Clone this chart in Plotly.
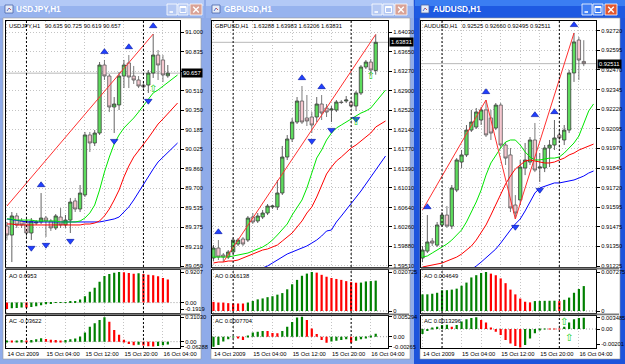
import plotly.graph_objects as go

W, H = 625, 364

# ------------------------------------------------------------------ data
bars = list(range(34))          # hourly bars 14 Oct 20:00 ... 16 Oct 05:00
line_bars = list(range(36))     # alligator lines are shifted forward
grid_bars = [0, 4, 8, 12, 16, 20, 24, 28, 32]
grid_text = ["14 Oct 2009", "", "15 Oct 04:00", "", "15 Oct 12:00", "",
             "15 Oct 20:00", "", "16 Oct 04:00"]
day_breaks = [4, 28]

# USDJPY,H1
uj_open = [89.383, 89.308, 89.467, 89.425, 89.425, 89.325, 89.408, 89.417, 89.450, 89.425, 89.367, 89.458,
           89.392, 89.433, 89.592, 89.525, 89.642, 90.142, 90.075, 90.158, 90.725, 90.633, 90.375, 90.392,
           90.633, 90.742, 90.633, 90.600, 90.558, 90.558, 90.658, 90.808, 90.767, 90.635]
uj_high = [89.417, 89.500, 89.492, 89.450, 89.442, 89.450, 89.433, 89.658, 89.467, 89.442, 89.483, 89.533,
           89.475, 89.617, 89.617, 89.725, 90.167, 90.167, 90.183, 90.750, 90.767, 90.650, 90.458, 90.667,
           90.767, 90.808, 90.717, 90.633, 90.583, 90.683, 90.983, 90.850, 90.808, 90.725]
uj_low = [89.267, 89.083, 89.367, 89.367, 89.292, 89.267, 89.392, 89.400, 89.292, 89.342, 89.350, 89.367,
          89.367, 89.325, 89.500, 89.500, 89.625, 90.000, 90.050, 90.142, 90.600, 90.333, 90.158, 90.350,
          90.533, 90.533, 90.567, 90.533, 90.517, 90.492, 90.617, 90.600, 90.583, 90.619]
uj_close = [89.308, 89.467, 89.392, 89.392, 89.325, 89.425, 89.417, 89.450, 89.425, 89.367, 89.467, 89.392,
            89.433, 89.583, 89.525, 89.658, 90.142, 90.075, 90.158, 90.725, 90.633, 90.375, 90.400, 90.633,
            90.725, 90.625, 90.600, 90.550, 90.542, 90.658, 90.808, 90.725, 90.642, 90.657]
uj_lips = [89.442, 89.442, 89.433, 89.433, 89.433, 89.433, 89.425, 89.425, 89.425, 89.425, 89.425, 89.417,
           89.417, 89.417, 89.417, 89.425, 89.450, 89.492, 89.558, 89.683, 89.833, 89.958, 90.067, 90.142,
           90.200, 90.242, 90.283, 90.333, 90.383, 90.442, 90.492, 90.517, 90.550, 90.583, 90.617, 90.642]
uj_teeth = [89.400, 89.400, 89.392, 89.392, 89.392, 89.392, 89.392, 89.392, 89.392, 89.392, 89.392, 89.392,
            89.392, 89.392, 89.392, 89.392, 89.400, 89.400, 89.408, 89.425, 89.467, 89.525, 89.600, 89.683,
            89.792, 89.883, 89.958, 90.008, 90.058, 90.117, 90.175, 90.233, 90.275, 90.317, 90.367, 90.408]
uj_jaw = [89.442, 89.438, 89.433, 89.425, 89.417, 89.417, 89.417, 89.417, 89.417, 89.417, 89.417, 89.417,
          89.417, 89.417, 89.417, 89.417, 89.417, 89.417, 89.417, 89.417, 89.425, 89.433, 89.442, 89.458,
          89.500, 89.542, 89.600, 89.667, 89.733, 89.800, 89.858, 89.917, 89.958, 90.000, 90.042, 90.075]
uj_zz_x = [0, 30]
uj_zz_y = [89.550, 90.983]
uj_fr_up = [7, 20, 25, 30]
uj_fr_dn = [1, 5, 8, 13, 22, 29]
uj_sig_x = [30]
uj_sig_y = [90.525]
uj_ao = [-0.1919, -0.17, -0.16, -0.15, -0.155, -0.13, -0.11, -0.08, -0.05, -0.03, -0.01, 0.005, 0.01, 0.02,
         0.04, 0.09, 0.19, 0.33, 0.45, 0.63, 0.80, 0.86, 0.90, 0.9207, 0.915, 0.89, 0.87, 0.88, 0.86, 0.84,
         0.82, 0.79, 0.74, 0.6953]
uj_ac = [0.012, 0.005, 0.015, 0.02, 0.012, 0.02, 0.03, 0.045, 0.035, 0.025, 0.02, 0.015, 0.02, 0.03, 0.04,
         0.067, 0.117, 0.19, 0.235, 0.276, 0.3103, 0.255, 0.15, 0.088, 0.025, -0.03, -0.045, -0.04, -0.05,
         -0.058, -0.06288, -0.055, -0.045, -0.03622]
uj_ticks = [89.05, 89.2125, 89.375, 89.5375, 89.70, 89.8625, 90.025, 90.1875, 90.35, 90.5125, 90.675,
            90.8375, 91.0]
# the 90.675 label is hidden under the current-price box in the reference
uj_tick_text = ["89.050", "89.210", "89.375", "89.535", "89.700", "89.860", "90.025", "90.185", "90.350",
                "90.510", "", "90.835", "91.000"]

# GBPUSD,H1
gu_open = [1.59664, 1.59857, 1.59722, 1.59683, 1.59780, 1.59934, 1.60031, 1.60011, 1.60456, 1.60379, 1.60456,
           1.60533, 1.60649, 1.60649, 1.60920, 1.61615, 1.61963, 1.62291, 1.62697, 1.62369, 1.62388, 1.62388,
           1.62639, 1.62562, 1.62523, 1.62523, 1.62678, 1.62697, 1.62678, 1.62600, 1.62852, 1.63354, 1.63450,
           1.63288]
gu_high = [1.59915, 1.60011, 1.59760, 1.59818, 1.60050, 1.60050, 1.60069, 1.60475, 1.60533, 1.60533, 1.60591,
           1.60707, 1.60688, 1.61171, 1.61828, 1.62040, 1.62369, 1.62774, 1.62987, 1.62813, 1.62484, 1.62774,
           1.62813, 1.62639, 1.62600, 1.62716, 1.62716, 1.62794, 1.62716, 1.62890, 1.63392, 1.63489, 1.63508,
           1.63983]
gu_low = [1.59606, 1.59625, 1.59586, 1.59644, 1.59741, 1.59896, 1.59896, 1.59973, 1.60321, 1.60340, 1.60417,
          1.60494, 1.60610, 1.60591, 1.60881, 1.61557, 1.61905, 1.62253, 1.62253, 1.62214, 1.62079, 1.62291,
          1.62330, 1.62388, 1.62291, 1.62484, 1.62639, 1.62658, 1.62562, 1.62504, 1.62813, 1.63315, 1.63199,
          1.63206]
gu_close = [1.59857, 1.59683, 1.59683, 1.59780, 1.60011, 1.60011, 1.59934, 1.60436, 1.60359, 1.60475, 1.60533,
            1.60668, 1.60668, 1.60920, 1.61615, 1.61963, 1.62291, 1.62697, 1.62291, 1.62311, 1.62233, 1.62639,
            1.62465, 1.62484, 1.62542, 1.62678, 1.62668, 1.62716, 1.62600, 1.62852, 1.63354, 1.63450, 1.63296,
            1.63831]
gu_lips = [1.59683, 1.59683, 1.59683, 1.59683, 1.59702, 1.59722, 1.59741, 1.59760, 1.59799, 1.59838, 1.59876,
           1.59934, 1.60011, 1.60108, 1.60224, 1.60321, 1.60494, 1.60649, 1.60784, 1.61016, 1.61306, 1.61596,
           1.61750, 1.61943, 1.62079, 1.62175, 1.62233, 1.62291, 1.62349, 1.62407, 1.62465, 1.62504, 1.62562,
           1.62678, 1.62794, 1.62909]
gu_teeth = [1.59567, 1.59586, 1.59586, 1.59606, 1.59606, 1.59625, 1.59664, 1.59702, 1.59741, 1.59780, 1.59818,
            1.59838, 1.59876, 1.59915, 1.59992, 1.60069, 1.60147, 1.60263, 1.60379, 1.60533, 1.60649, 1.60842,
            1.61055, 1.61287, 1.61422, 1.61538, 1.61615, 1.61712, 1.61789, 1.61847, 1.61924, 1.62001, 1.62079,
            1.62195, 1.62253, 1.62311]
gu_jaw = [1.59393, 1.59374, 1.59355, 1.59335, 1.59316, 1.59316, 1.59335, 1.59355, 1.59393, 1.59432, 1.59470,
          1.59510, 1.59567, 1.59625, 1.59683, 1.59741, 1.59780, 1.59818, 1.59857, 1.59896, 1.59953, 1.60011,
          1.60089, 1.60185, 1.60205, 1.60359, 1.60475, 1.60591, 1.60707, 1.60842, 1.60958, 1.61093, 1.61229,
          1.61364, 1.61499, 1.61634]
gu_zz_x = [2, 33]
gu_zz_y = [1.59586, 1.63983]
gu_fr_up = [1, 18, 22]
gu_fr_dn = [2, 20, 24, 29]
gu_sig_x = [29, 32]
gu_sig_y = [1.62291, 1.63180]
gu_ao = [0.00485, 0.00451, 0.00449, 0.00418, 0.00401, 0.00400, 0.00399, 0.00451, 0.00535, 0.00618, 0.00668,
         0.00735, 0.00785, 0.00869, 0.00952, 0.01153, 0.01420, 0.01654, 0.01872, 0.01988, 0.020725, 0.02039,
         0.01922, 0.01821, 0.01755, 0.01704, 0.01654, 0.01587, 0.01537, 0.01504, 0.01510, 0.01571, 0.01590,
         0.016138]
gu_ac = [-0.00265, -0.0022, -0.0013, -0.0007, -0.0002, -0.0004, -0.0009, 0.0003, 0.0011, 0.0013, 0.0015,
         0.00148, 0.0010, 0.0009, 0.0015, 0.0026, 0.0039, 0.0051, 0.005294, 0.0044, 0.0022, 0.0007, -0.0009,
         -0.0016, -0.0013, -0.0011, -0.0009, -0.0007, -0.0016, -0.0011, -0.0007, -0.0003, 0.0002, 0.0007704]
gu_ticks = [1.59510, 1.59887, 1.60263, 1.60640, 1.61017, 1.61393, 1.61770, 1.62147, 1.62523, 1.62900,
            1.63277, 1.63653, 1.64030]
gu_tick_text = ["1.59510", "1.59880", "1.60260", "1.60640", "1.61010", "1.61390", "1.61770", "1.62140",
                "1.62520", "1.62900", "1.63270", "1.63650", "1.64030"]

# AUDUSD,H1
au_open = [0.91276, 0.91320, 0.91384, 0.91358, 0.91486, 0.91549, 0.91479, 0.91708, 0.91886, 0.91931, 0.92089,
           0.92108, 0.92153, 0.92217, 0.92166, 0.92102, 0.92248, 0.91994, 0.91931, 0.91613, 0.91645, 0.91848,
           0.91886, 0.92026, 0.91848, 0.91848, 0.91975, 0.91994, 0.92058, 0.92026, 0.92089, 0.92452, 0.92661,
           0.92525]
au_high = [0.91352, 0.91549, 0.91403, 0.91505, 0.91568, 0.91606, 0.91740, 0.91911, 0.91962, 0.92121, 0.92217,
           0.92229, 0.92236, 0.92280, 0.92217, 0.92261, 0.92261, 0.92013, 0.91975, 0.91676, 0.91899, 0.92007,
           0.92045, 0.92134, 0.91943, 0.91994, 0.92026, 0.92153, 0.92089, 0.92121, 0.92471, 0.92706, 0.92680,
           0.92660]
au_low = [0.91250, 0.91308, 0.91352, 0.91346, 0.91473, 0.91467, 0.91460, 0.91695, 0.91848, 0.91918, 0.92077,
          0.92096, 0.92121, 0.92045, 0.92026, 0.92089, 0.91975, 0.91867, 0.91568, 0.91524, 0.91613, 0.91803,
          0.91867, 0.91822, 0.91759, 0.91822, 0.91854, 0.91962, 0.92013, 0.91994, 0.92070, 0.92395, 0.92407,
          0.92495]
au_close = [0.91327, 0.91378, 0.91371, 0.91486, 0.91549, 0.91479, 0.91721, 0.91899, 0.91931, 0.92089, 0.92140,
            0.92204, 0.92217, 0.92058, 0.92070, 0.92248, 0.91994, 0.91911, 0.91594, 0.91562, 0.91854, 0.91899,
            0.92026, 0.91835, 0.91854, 0.91975, 0.91994, 0.92039, 0.92039, 0.92089, 0.92452, 0.92649, 0.92534,
            0.92511]
au_lips = [0.91282, 0.91289, 0.91308, 0.91327, 0.91346, 0.91365, 0.91390, 0.91422, 0.91454, 0.91505, 0.91568,
           0.91632, 0.91708, 0.91803, 0.91880, 0.91931, 0.91975, 0.92013, 0.92026, 0.92026, 0.91994, 0.91950,
           0.91918, 0.91899, 0.91899, 0.91905, 0.91911, 0.91911, 0.91918, 0.91943, 0.91975, 0.92007, 0.92051,
           0.92134, 0.92210, 0.92255]
au_teeth = [0.91219, 0.91225, 0.91231, 0.91238, 0.91244, 0.91257, 0.91269, 0.91282, 0.91301, 0.91327, 0.91352,
            0.91390, 0.91441, 0.91486, 0.91549, 0.91613, 0.91676, 0.91746, 0.91797, 0.91842, 0.91867, 0.91892,
            0.91899, 0.91892, 0.91886, 0.91880, 0.91880, 0.91886, 0.91899, 0.91911, 0.91931, 0.91943, 0.91962,
            0.91975, 0.91988, 0.92000]
au_jaw = [0.91072, 0.91078, 0.91085, 0.91095, 0.91104, 0.91117, 0.91130, 0.91145, 0.91161, 0.91180, 0.91200,
          0.91225, 0.91250, 0.91276, 0.91301, 0.91333, 0.91371, 0.91416, 0.91454, 0.91492, 0.91524, 0.91575,
          0.91632, 0.91689, 0.91721, 0.91733, 0.91746, 0.91753, 0.91753, 0.91759, 0.91765, 0.91772, 0.91784,
          0.91797, 0.91816, 0.91829]
au_zz_x = [0, 13, 19, 31]
au_zz_y = [0.91581, 0.92280, 0.91524, 0.92706]
au_fr_up = [1, 13, 23, 27, 31]
au_fr_dn = [19, 24]
au_sig_x = [29, 30]          # signal arrows drawn in the AC window
au_sig_y = [0.0018, -0.0027]
au_ao = [0.00310, 0.00311, 0.00322, 0.00340, 0.00387, 0.00388, 0.00399, 0.00417, 0.00471, 0.00530, 0.00626,
         0.00668, 0.00709, 0.007275, 0.00697, 0.00667, 0.00608, 0.00519, 0.00399, 0.00310, 0.00232, 0.00173,
         0.00161, 0.00185, 0.00188, 0.00190, 0.00191, 0.00192, 0.00185, 0.00209, 0.00250, 0.00340, 0.00411,
         0.004649]
au_ac = [-0.0015, -0.0006, 0.0002, 0.0007, 0.0012, 0.0013, 0.0007, 0.0012, 0.0022, 0.0029, 0.0033, 0.003485,
         0.0027, 0.0019, 0.0002, -0.0008, -0.0018, -0.0033, -0.0043, -0.0051, -0.0055, -0.0048, -0.0028,
         -0.0013, -0.0003, 0.0001, 0.00005, -0.00005, -0.0001, 0.0007, 0.0019, 0.0029, 0.0033, 0.00335]
au_ticks = [0.91225, 0.91350, 0.91474, 0.91599, 0.91723, 0.91848, 0.91973, 0.92097, 0.92222, 0.92346,
            0.92471, 0.92595, 0.92720]
au_tick_text = ["0.91225", "0.91350", "0.91475", "0.91595", "0.91720", "0.91845", "0.91970", "0.92095",
                "0.92220", "0.92345", "0.92470", "0.92595", "0.92720"]

# ------------------------------------------------------------------ window setup
wins = [
    dict(title="USDJPY,H1", header="USDJPY,H1\u00a0\u00a0 90.635 90.725 90.619 90.657",
         o=uj_open, h=uj_high, l=uj_low, c=uj_close, lips=uj_lips, teeth=uj_teeth, jaw=uj_jaw,
         zzx=uj_zz_x, zzy=uj_zz_y, fup=uj_fr_up, fdn=uj_fr_dn, sx=uj_sig_x, sy=uj_sig_y, sig_panel=0,
         ao=uj_ao, ac=uj_ac, ao0="#ff0000", ac0="#008000",
         aolab="AO 0.6953", aclab="AC -0.03622", price="90.657",
         ticks=uj_ticks, tt=uj_tick_text, yr=[89.0417, 91.0917],
         ao_r=[-0.3122, 0.9808], ao_t=[0.9207, 0.0, -0.1919], ao_tt=["0.9207", "0.00", "-0.1919"],
         ac_r=[-0.0807, 0.3332], ac_t=[0.3103, 0.0, -0.06288], ac_tt=["0.31030", "0.00", "-0.06288"],
         frame=(0, 205), tbar=(0, 204), client=(3, 201), plot=(5.5, 180), icon=5, tx=15,
         btn=[(167, 177), (178, 188), (190, 202)], active=False),
    dict(title="GBPUSD,H1", header="GBPUSD,H1\u00a0\u00a0 1.63288 1.63983 1.63206 1.63831",
         o=gu_open, h=gu_high, l=gu_low, c=gu_close, lips=gu_lips, teeth=gu_teeth, jaw=gu_jaw,
         zzx=gu_zz_x, zzy=gu_zz_y, fup=gu_fr_up, fdn=gu_fr_dn, sx=gu_sig_x, sy=gu_sig_y, sig_panel=0,
         ao=gu_ao, ac=gu_ac, ao0="#ff0000", ac0="#008000",
         aolab="AO 0.016138", aclab="AC 0.0007704", price="1.63831",
         ticks=gu_ticks, tt=gu_tick_text, yr=[1.59490, 1.64243],
         ao_r=[-0.00106, 0.021788], ao_t=[0.020725, 0.0], ao_tt=["0.020725", "0"],
         ac_r=[-0.002994, 0.005612], ac_t=[0.005294, 0.0, -0.00265], ac_tt=["0.005294", "0.00", "-0.00265"],
         frame=(205, 414), tbar=(206, 413), client=(211, 410), plot=(212, 388), icon=212, tx=223,
         btn=[(372, 382), (383, 394), (395, 407)], active=False),
    dict(title="AUDUSD,H1", header="AUDUSD,H1\u00a0\u00a0 0.92525 0.92660 0.92495 0.92511",
         o=au_open, h=au_high, l=au_low, c=au_close, lips=au_lips, teeth=au_teeth, jaw=au_jaw,
         zzx=au_zz_x, zzy=au_zz_y, fup=au_fr_up, fdn=au_fr_dn, sx=au_sig_x, sy=au_sig_y, sig_panel=2,
         ao=au_ao, ac=au_ac, ao0="#008000", ac0="#008000",
         aolab="AO 0.004649", aclab="AC 0.0013296", price="0.92511",
         ticks=au_ticks, tt=au_tick_text, yr=[0.91219, 0.92782],
         ao_r=[-0.000373, 0.007648], ao_t=[0.007275, 0.0], ao_tt=["0.007275", "0"],
         ac_r=[-0.00566, 0.00402], ac_t=[0.0033, 0.0, -0.00447], ac_tt=["0.003485", "0.00", "-0.00201"],
         frame=(414, 625), tbar=(415, 625), client=(420, 620), plot=(421, 596), icon=421, tx=432,
         btn=[(582, 592), (593, 603), (605, 617)], active=True),
]

FONT = "Liberation Sans, Arial, sans-serif"
FS = 5.8
INACT_FRAME = "#8fabe9"
INACT_TITLE_T, INACT_TITLE_B = "#b3c9f6", "#97b3ee"
ACT_FRAME = "#1d54dc"
ACT_TITLE_T, ACT_TITLE_B = "#3b7ef2", "#1e5ae2"
GRID = "#c4c4c4"
ROWS = [(21, 267), (270, 313), (315.5, 348)]


def fx(x):
    return x / W


def fy(y):
    return 1 - y / H


def rect(x0, y0, x1, y1, fill, line=None, lw=0, layer="below"):
    return dict(type="rect", xref="paper", yref="paper", x0=fx(x0), x1=fx(x1), y0=fy(y1), y1=fy(y0),
                fillcolor=fill, line=dict(color=line if line else fill, width=lw), layer=layer)


def pline(x0, y0, x1, y1, color, lw=1.0):
    return dict(type="line", xref="paper", yref="paper", x0=fx(x0), x1=fx(x1), y0=fy(y0), y1=fy(y1),
                line=dict(color=color, width=lw), layer="above")


def label(x, y, text, size=FS, color="black", xanchor="left", family=FONT, **kw):
    d = dict(xref="paper", yref="paper", x=fx(x), y=fy(y), text=text, showarrow=False, xanchor=xanchor,
             yanchor="middle", font=dict(size=size, color=color, family=family), borderpad=0)
    d.update(kw)
    return d


def bar_colors(vals, first):
    cols = [first]
    for i in range(1, len(vals)):
        cols.append("#008000" if vals[i] > vals[i - 1] else "#ff0000")
    return cols


fig = go.Figure()
shapes, annots = [], []
layout = dict(width=W, height=H, margin=dict(l=0, r=0, t=0, b=0), paper_bgcolor=INACT_FRAME,
              plot_bgcolor="white", showlegend=False, template="none", boxgap=0.15, boxgroupgap=0.2,
              font=dict(family=FONT, size=FS, color="black"), hovermode=False)

for w, win in enumerate(wins):
    fx0, fx1 = win["frame"]
    act = win["active"]
    if act:
        shapes.append(rect(fx0, 0, fx1, H, ACT_FRAME))
    tcol_t = ACT_TITLE_T if act else INACT_TITLE_T
    tcol_b = ACT_TITLE_B if act else INACT_TITLE_B
    tb0, tb1 = win["tbar"]
    shapes.append(rect(tb0, 0, tb1, 18, tcol_b))
    shapes.append(rect(tb0, 0, tb1, 6, tcol_t))
    c0, c1 = win["client"]
    shapes.append(rect(c0, 18, c1, 359, "white", line="#9a9a9a", lw=0.6))
    # title icon
    ix = win["icon"]
    shapes.append(rect(ix, 5, ix + 8, 13, "#e6ecf7", line="#4a64a8", lw=0.8, layer="above"))
    shapes.append(pline(ix + 2, 11, ix + 4, 8, "#3050c0", 0.8))
    shapes.append(pline(ix + 4, 8, ix + 6, 10, "#c03030", 0.8))
    annots.append(label(win["tx"], 9.5, "<b>" + win["title"] + "</b>", size=8.2, color="white",
                        family="Liberation Sans, Arial, sans-serif"))
    # buttons
    for k, (b0, b1) in enumerate(win["btn"]):
        if k == 2:
            fill = "#e2572f" if act else "#d9a296"
        else:
            fill = "#3f7ef4" if act else "#b4c8f3"
        shapes.append(rect(b0, 4, b1, 15, fill, line="white", lw=0.8, layer="above"))
        cx = (b0 + b1) / 2
        if k == 0:
            shapes.append(pline(cx - 2.5, 12, cx + 1, 12, "white", 1.6))
        elif k == 1:
            shapes.append(rect(cx - 3, 6.5, cx + 3, 12.5, "rgba(0,0,0,0)", line="white", lw=1, layer="above"))
            shapes.append(pline(cx - 3, 7.3, cx + 3, 7.3, "white", 1.4))
        else:
            shapes.append(pline(cx - 2.8, 6.8, cx + 2.8, 12.4, "white", 1.4))
            shapes.append(pline(cx - 2.8, 12.4, cx + 2.8, 6.8, "white", 1.4))

    pl, pr = win["plot"]
    # separators between the sub windows
    shapes.append(rect(pl, 267.4, c1 - 1, 269.6, "#7a7a7a", layer="above"))
    shapes.append(rect(pl, 313.4, c1 - 1, 315.2, "#7a7a7a", layer="above"))

    for p, (t, b) in enumerate(ROWS):
        n = 3 * w + p + 1
        xk = "xaxis" if n == 1 else "xaxis%d" % n
        yk = "yaxis" if n == 1 else "yaxis%d" % n
        xa = "x" if n == 1 else "x%d" % n
        ya = "y" if n == 1 else "y%d" % n
        layout[xk] = dict(domain=[fx(pl), fx(pr)], range=[-0.3, 35.5], anchor=ya, fixedrange=True,
                          tickmode="array", tickvals=grid_bars, ticktext=grid_text, tickangle=0,
                          showticklabels=(p == 2), ticks="", showgrid=True, gridcolor=GRID,
                          griddash="1px,2px", gridwidth=1, zeroline=False, showline=True, mirror=True,
                          linecolor="black", linewidth=1, tickfont=dict(size=FS, family=FONT, color="black"),
                          rangeslider=dict(visible=False), automargin=False)
        if p == 2:
            layout[xk]["ticklabelposition"] = "outside right"
        ycommon = dict(domain=[fy(b), fy(t)], anchor=xa, side="right", fixedrange=True, zeroline=False,
                       showline=True, mirror=True, linecolor="black", linewidth=1, ticks="outside",
                       ticklen=3, tickwidth=1, tickcolor="black", automargin=False,
                       tickfont=dict(size=FS, family=FONT, color="black"), tickmode="array")
        if p == 0:
            ycommon.update(range=win["yr"], tickvals=win["ticks"], ticktext=win["tt"], showgrid=True,
                           gridcolor=GRID, griddash="1px,2px", gridwidth=1)
        elif p == 1:
            ycommon.update(range=win["ao_r"], tickvals=win["ao_t"], ticktext=win["ao_tt"], showgrid=False)
        else:
            ycommon.update(range=win["ac_r"], tickvals=win["ac_t"], ticktext=win["ac_tt"], showgrid=False)
        layout[yk] = ycommon

        # day separators
        for db in day_breaks:
            shapes.append(dict(type="line", xref=xa, yref=ya + " domain", x0=db, x1=db, y0=0, y1=1,
                               line=dict(color="black", width=1, dash="2px,2px"), layer="above"))
        if p > 0:
            shapes.append(dict(type="line", xref=xa + " domain", yref=ya, x0=0, x1=1, y0=0, y1=0,
                               line=dict(color="#9a9a9a", width=1, dash="1px,2px"), layer="below"))

        if p == 0:
            ppp = (win["yr"][1] - win["yr"][0]) / (267 - 21)
            fig.add_trace(go.Candlestick(
                x=bars, open=win["o"], high=win["h"], low=win["l"], close=win["c"], xaxis=xa, yaxis=ya,
                whiskerwidth=0,
                increasing=dict(line=dict(color="#3c3c3c", width=0.8), fillcolor="#5ddc5d"),
                decreasing=dict(line=dict(color="#5a5a5a", width=0.8), fillcolor="#f6c8d0"),
                hoverinfo="skip"))
            # bid line
            shapes.append(dict(type="line", xref=xa + " domain", yref=ya, x0=0, x1=1, y0=win["c"][-1],
                               y1=win["c"][-1], line=dict(color="#b8b8b8", width=1), layer="below"))
            for vals, col in ((win["jaw"], "#0000ff"), (win["teeth"], "#ff0000"), (win["lips"], "#00e600")):
                fig.add_trace(go.Scatter(x=line_bars, y=vals, mode="lines", xaxis=xa, yaxis=ya,
                                         line=dict(color=col, width=1), hoverinfo="skip"))
            fig.add_trace(go.Scatter(x=win["zzx"], y=win["zzy"], mode="lines", xaxis=xa, yaxis=ya,
                                     line=dict(color="#ff3030", width=1), hoverinfo="skip"))
            fig.add_trace(go.Scatter(x=win["fup"], y=[win["h"][i] + 8 * ppp for i in win["fup"]],
                                     mode="markers", xaxis=xa, yaxis=ya, hoverinfo="skip",
                                     marker=dict(symbol="triangle-up", size=6.5, color="#2040ff",
                                                 line=dict(color="#0010a0", width=0.6))))
            fig.add_trace(go.Scatter(x=win["fdn"], y=[win["l"][i] - 8 * ppp for i in win["fdn"]],
                                     mode="markers", xaxis=xa, yaxis=ya, hoverinfo="skip",
                                     marker=dict(symbol="triangle-down", size=6.5, color="#2040ff",
                                                 line=dict(color="#0010a0", width=0.6))))
            annots.append(label(pl + 2, 26.5, win["header"]))
            annots.append(dict(xref="paper", yref=ya, x=fx(pr + 0.5), y=win["c"][-1], text=win["price"],
                               showarrow=False, xanchor="left", yanchor="middle", bgcolor="black",
                               font=dict(size=FS, color="white", family=FONT), borderpad=1))
        elif p == 1:
            fig.add_trace(go.Bar(x=bars, y=win["ao"], xaxis=xa, yaxis=ya, width=0.45, hoverinfo="skip",
                                 marker=dict(color=bar_colors(win["ao"], win["ao0"]), line=dict(width=0))))
            annots.append(label(pl + 2, 275.5, win["aolab"]))
        else:
            fig.add_trace(go.Bar(x=bars, y=win["ac"], xaxis=xa, yaxis=ya, width=0.45, hoverinfo="skip",
                                 marker=dict(color=bar_colors(win["ac"], win["ac0"]), line=dict(width=0))))
            annots.append(label(pl + 2, 321, win["aclab"]))

        if p == win["sig_panel"]:
            fig.add_trace(go.Scatter(x=win["sx"], y=win["sy"], mode="text", text=["\u21e7"] * len(win["sx"]),
                                     xaxis=xa, yaxis=ya, hoverinfo="skip",
                                     textfont=dict(size=10, color="#10d010", family="DejaVu Sans")))

layout["shapes"] = shapes
layout["annotations"] = annots
fig.update_layout(**layout)
fig.write_html("out.html")
